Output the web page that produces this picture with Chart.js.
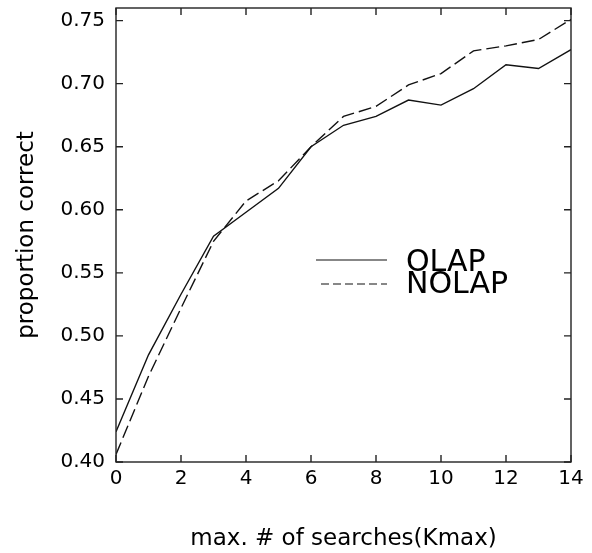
<!DOCTYPE html>
<html>
<head>
<meta charset="utf-8">
<script src="https://cdn.jsdelivr.net/npm/chart.js@4/dist/chart.umd.min.js"></script>
<style>
  html, body { margin: 0; padding: 0; background: #fff; }
  canvas { display: block; }
</style>
</head>
<body>
<canvas id="kmaxChart" width="592" height="553"></canvas>
<script>
// values
const kmax = [0, 1, 2, 3, 4, 5, 6, 7, 8, 9, 10, 11, 12, 13, 14];
const olap = [0.424, 0.485, 0.533, 0.579, 0.598, 0.617, 0.650, 0.667, 0.674, 0.687, 0.683, 0.696, 0.715, 0.712, 0.727];
const nolap = [0.406, 0.468, 0.522, 0.575, 0.607, 0.623, 0.650, 0.674, 0.682, 0.699, 0.708, 0.726, 0.730, 0.735, 0.751];
const xTicks = [0, 2, 4, 6, 8, 10, 12, 14];
const yTicks = [0.40, 0.45, 0.50, 0.55, 0.60, 0.65, 0.70, 0.75];
const seriesNames = ['OLAP', 'NOLAP'];

const FONT = "'DejaVu Sans', sans-serif";
const INK = '#111';

function points(ys) {
    return kmax.map((k, i) => ({ x: k, y: ys[i] }));
}

// box around the plot with ticks pointing inwards, mirrored on top and right
const frameAndTicks = {
    id: 'frameAndTicks',
    afterDatasetsDraw(chart) {
        const { ctx, chartArea: a, scales: { x, y } } = chart;
        const len = 7;
        ctx.save();
        ctx.strokeStyle = '#222';
        ctx.lineWidth = 1.4;
        ctx.strokeRect(a.left, a.top, a.right - a.left, a.bottom - a.top);
        ctx.beginPath();
        xTicks.forEach(v => {
            const px = x.getPixelForValue(v);
            ctx.moveTo(px, a.bottom); ctx.lineTo(px, a.bottom - len);
            ctx.moveTo(px, a.top); ctx.lineTo(px, a.top + len);
        });
        yTicks.forEach(v => {
            const py = y.getPixelForValue(v);
            ctx.moveTo(a.left, py); ctx.lineTo(a.left + len, py);
            ctx.moveTo(a.right, py); ctx.lineTo(a.right - len, py);
        });
        ctx.stroke();
        ctx.restore();
    }
};

// legend sits inside the plot, lines to the left of the names
const innerLegend = {
    id: 'innerLegend',
    afterDraw(chart) {
        const { ctx, chartArea: a } = chart;
        const rows = [
            { name: seriesNames[0], dash: [], x0: a.left + 200, lineY: a.top + 252, textY: a.top + 263 },
            { name: seriesNames[1], dash: [8, 4], x0: a.left + 205, lineY: a.top + 276, textY: a.top + 285 }
        ];
        ctx.save();
        ctx.strokeStyle = INK;
        ctx.lineWidth = 1.2;
        ctx.fillStyle = '#000';
        ctx.font = "30px " + FONT;
        ctx.textBaseline = 'alphabetic';
        rows.forEach(r => {
            ctx.setLineDash(r.dash);
            ctx.beginPath();
            ctx.moveTo(r.x0, r.lineY);
            ctx.lineTo(a.left + 271, r.lineY);
            ctx.stroke();
            ctx.fillText(r.name, a.left + 290, r.textY);
        });
        ctx.restore();
    }
};

new Chart(document.getElementById('kmaxChart').getContext('2d'), {
    type: 'line',
    data: {
        datasets: [
            {
                label: seriesNames[0],
                data: points(olap),
                borderColor: INK,
                borderWidth: 1.4,
                pointRadius: 0,
                tension: 0,
                fill: false
            },
            {
                label: seriesNames[1],
                data: points(nolap),
                borderColor: INK,
                borderWidth: 1.4,
                borderDash: [13, 5],
                pointRadius: 0,
                tension: 0,
                fill: false
            }
        ]
    },
    options: {
        responsive: false,
        animation: false,
        layout: { padding: { top: 8, right: 21, left: 0, bottom: 0 } },
        plugins: {
            legend: { display: false },
            tooltip: { enabled: false }
        },
        scales: {
            x: {
                type: 'linear',
                min: 0,
                max: 14,
                afterBuildTicks: s => { s.ticks = xTicks.map(v => ({ value: v })); },
                afterFit: s => { s.height = 91; s.paddingLeft = 0; s.paddingRight = 0; },
                grid: { display: false, drawTicks: false },
                border: { display: false },
                ticks: { color: '#000', padding: 5, font: { family: FONT, size: 20 } },
                title: {
                    display: true,
                    text: 'max. # of searches(Kmax)',
                    color: '#000',
                    padding: { top: 0, bottom: 0 },
                    font: { family: FONT, size: 23 }
                }
            },
            y: {
                min: 0.40,
                max: 0.76,
                afterBuildTicks: s => { s.ticks = yTicks.map(v => ({ value: v })); },
                afterFit: s => { s.width = 116; s.paddingTop = 0; s.paddingBottom = 0; },
                grid: { display: false, drawTicks: false },
                border: { display: false },
                ticks: {
                    color: '#000',
                    padding: 11,
                    font: { family: FONT, size: 20 },
                    callback: v => v.toFixed(2)
                },
                title: {
                    display: true,
                    text: 'proportion correct',
                    color: '#000',
                    padding: { top: 13, bottom: 0 },
                    font: { family: FONT, size: 23 }
                }
            }
        }
    },
    plugins: [frameAndTicks, innerLegend]
});
</script>
</body>
</html>
